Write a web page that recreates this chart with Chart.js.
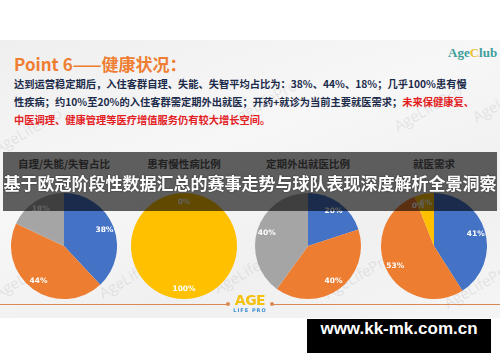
<!DOCTYPE html>
<html>
<head>
<meta charset="utf-8">
<script src="https://cdn.jsdelivr.net/npm/chart.js@4"></script>
<style>
  body { margin: 0; background: #fff; }
  #page { position: relative; width: 500px; height: 362px; overflow: hidden; background: #fff;
          font-family: "Noto Sans CJK SC", "Noto Sans", sans-serif; }
  .abs { position: absolute; }
  #slide { left: 0; top: 40px; width: 500px; height: 278px;
           background: linear-gradient(160deg, #efeff0 0%, #f7f7f8 40%, #f0f0f1 70%, #f5f5f5 100%); }
  .wm { color: rgba(160,160,160,0.22); font: 15px "Open Sans", sans-serif; transform: rotate(-30deg); white-space: nowrap; }
  #head { left: 14px; top: 51px; color: #ef7d32; font-weight: bold; font-size: 17px; white-space: nowrap; }
  #logo { left: 448px; top: 45px; font: bold 13px "Liberation Serif", serif; color: #3f9e9a; }
  .line { left: 14px; font-weight: bold; font-size: 10.25px; color: #1c2b4a; white-space: nowrap; }
  .red { color: #e3201e; }
  canvas { position: absolute; }
  .ptitle { top: 156px; width: 120px; text-align: center; font-weight: bold; font-size: 10.5px; color: #5a5a5a; }
  #band { left: 3px; top: 152px; width: 494px; height: 59px; background: rgba(0,0,0,0.62); }
  #big { left: 0; top: 170px; width: 500px; text-align: center; color: #fff; font-weight: bold; font-size: 17px;
         white-space: nowrap; text-shadow: 0 0 2px rgba(0,0,0,0.5); }
  .hr { top: 304px; height: 1px; background: #d98a52; }
  .dot { top: 302px; width: 4px; height: 4px; border-radius: 2px; background: #d98a52; }
  #age { left: 226px; top: 292px; width: 48px; text-align: center; font: bold 14px "DejaVu Sans", sans-serif; color: #f4c10e; letter-spacing: -0.5px; }
  #lp { left: 226px; top: 307px; width: 48px; text-align: center; font: bold 5px "DejaVu Sans", sans-serif; color: #3c8fd0; letter-spacing: 1px; }
  #url { left: 307px; top: 319px; width: 184px; height: 34px; background: #000; color: #fff; text-align: center;
         line-height: 34px; font: bold 17px "Liberation Sans", Arial, sans-serif; white-space: nowrap; }
</style>
</head>
<body>
<div id="page">
  <div id="slide" class="abs"></div>
  <div class="abs wm" style="left:-10px;top:120px">AgeLifePro</div>
  <div class="abs wm" style="left:225px;top:92px">AgeLifePro</div>
  <div class="abs wm" style="left:390px;top:98px">AgeLifePro</div>
  <div class="abs wm" style="left:470px;top:95px">AgeLife</div>
  <div class="abs wm" style="left:-10px;top:265px">AgeLifePro</div>
  <div class="abs wm" style="left:95px;top:265px">AgeLifePro</div>
  <div class="abs wm" style="left:210px;top:260px">AgeLifePro</div>
  <div class="abs wm" style="left:320px;top:265px">AgeLifePro</div>
  <div class="abs wm" style="left:440px;top:275px">AgeLifePro</div>

  <div id="head" class="abs">Point 6——健康状况：</div>
  <div id="logo" class="abs">Age<span style="color:#e9c23a">C</span>lub</div>
  <div class="abs line" style="top:76px">达到运营稳定期后，入住客群自理、失能、失智平均占比为：38%、44%、18%；几乎100%患有慢</div>
  <div class="abs line" style="top:94px">性疾病；约10%至20%的入住客群需定期外出就医；开药+就诊为当前主要就医需求；<span class="red">未来保健康复、</span></div>
  <div class="abs line red" style="top:112px">中医调理、健康管理等医疗增值服务仍有较大增长空间。</div>

  <div id="titles"></div>
  <canvas id="pie0" width="106" height="106" style="left:11px;top:193px"></canvas>
  <canvas id="pie1" width="106" height="106" style="left:131px;top:193px"></canvas>
  <canvas id="pie2" width="106" height="106" style="left:255px;top:193px"></canvas>
  <canvas id="pie3" width="106" height="106" style="left:381px;top:193px"></canvas>

  <div class="abs hr" style="left:0;width:228px"></div>
  <div class="abs dot" style="left:226px"></div>
  <div class="abs hr" style="left:272px;width:228px"></div>
  <div class="abs dot" style="left:270px"></div>
  <div id="age" class="abs">AGE</div>
  <div id="lp" class="abs">LIFE PRO</div>

  <div id="band" class="abs"></div>
  <div id="big" class="abs">基于欧冠阶段性数据汇总的赛事走势与球队表现深度解析全景洞察</div>
  <div id="url" class="abs">www.kk-mk.com.cn</div>
</div>
<script>
// 饼图数据
const pieTitles = ['自理/失能/失智占比', '患有慢性病比例', '定期外出就医比例', '就医需求'];
const pieCenters = [64, 184, 308, 434];

const selfCareLabels = ['自理', '失能', '失智'];
const selfCareValues = [38, 44, 18];

const chronicLabels = ['无慢性病', '患有慢性病'];
const chronicValues = [0, 100];

const outingLabels = ['每周', '每月', '不定期'];
const outingValues = [20, 40, 40];

const needLabels = ['开药', '就诊', '其他', '康复'];
const needValues = [41, 53, 0, 6];

const blue = '#4472c4', orange = '#ed7d31', grey = '#a5a5a5', yellow = '#ffc000';

// 标题
const titleBox = document.getElementById('titles');
pieTitles.forEach((t, i) => {
    const d = document.createElement('div');
    d.className = 'abs ptitle';
    d.style.left = (pieCenters[i] - 60) + 'px';
    d.textContent = t;
    titleBox.appendChild(d);
});

// 百分比标签画在扇区里
const pctLabels = {
    id: 'pctLabels',
    afterDatasetsDraw(chart) {
        const ctx = chart.ctx;
        const meta = chart.getDatasetMeta(0);
        const values = chart.data.datasets[0].data;
        ctx.save();
        ctx.fillStyle = '#fff';
        ctx.font = 'bold 7.5px "DejaVu Sans", sans-serif';
        ctx.textAlign = 'center';
        ctx.textBaseline = 'middle';
        meta.data.forEach((arc, i) => {
            const mid = (arc.startAngle + arc.endAngle) / 2;
            const r = arc.outerRadius * 0.82;
            ctx.fillText(values[i] + '%', arc.x + Math.cos(mid) * r, arc.y + Math.sin(mid) * r);
        });
        ctx.restore();
    }
};

function makePie(id, labels, values, colors) {
    new Chart(document.getElementById(id), {
        type: 'pie',
        data: {
            labels: labels,
            datasets: [{
                data: values,
                backgroundColor: colors,
                borderWidth: 0,
                hoverOffset: 0,
                offset: 0
            }]
        },
        options: {
            responsive: false,
            animation: false,
            layout: { padding: 0 },
            plugins: { legend: { display: false }, tooltip: { enabled: false } }
        },
        plugins: [pctLabels]
    });
}

makePie('pie0', selfCareLabels, selfCareValues, [blue, orange, grey]);
makePie('pie1', chronicLabels, chronicValues, [blue, yellow]);
makePie('pie2', outingLabels, outingValues, [blue, orange, grey]);
makePie('pie3', needLabels, needValues, [blue, orange, grey, yellow]);
</script>
</body>
</html>
